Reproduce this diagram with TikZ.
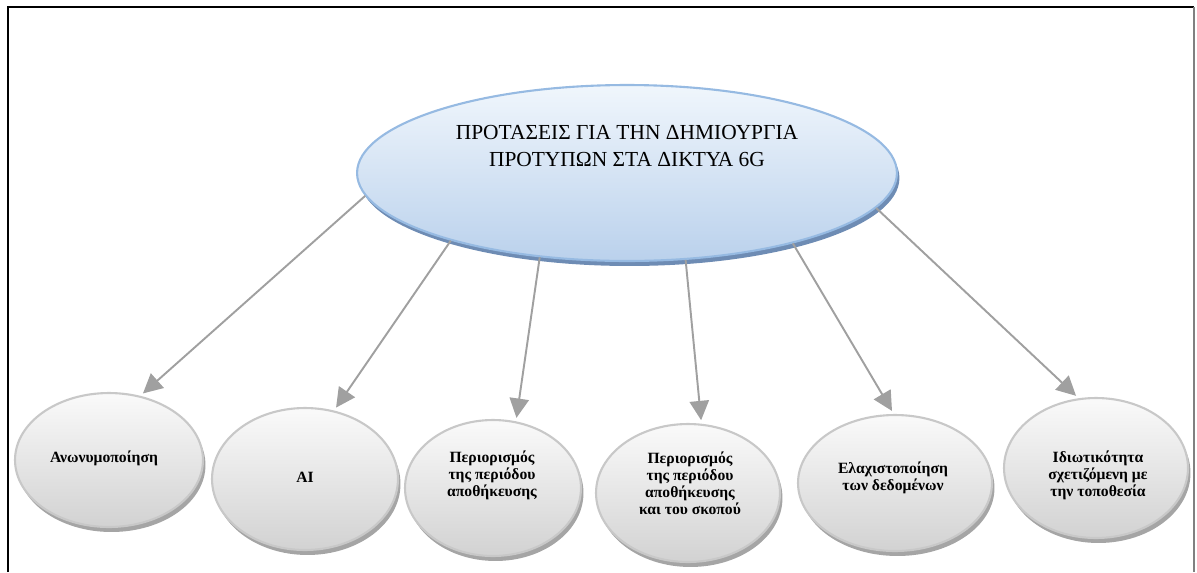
\documentclass[tikz,border=0pt]{standalone}
\usepackage{fontspec}
\setmainfont{Liberation Serif}
\usetikzlibrary{shapes.geometric,arrows.meta,shadows}
\definecolor{arrowgray}{RGB}{160,160,160}
\definecolor{topborder}{RGB}{150,186,226}
\definecolor{toptop}{RGB}{240,246,252}
\definecolor{topbot}{RGB}{186,209,236}
\definecolor{topshadow}{RGB}{110,140,180}
\definecolor{subborder}{RGB}{200,200,200}
\definecolor{subtop}{RGB}{250,250,250}
\definecolor{subbot}{RGB}{210,210,210}
\definecolor{subshadow}{RGB}{165,165,165}
\tikzset{
  topell/.style={ellipse, draw=topborder, line width=1.2pt, top color=toptop, bottom color=topbot,
    minimum width=10.8cm, minimum height=3.52cm, inner sep=0pt,
    drop shadow={shadow xshift=0.05cm, shadow yshift=-0.1cm, fill=topshadow, opacity=1}},
  toptext/.style={font=\fontsize{12.2}{15.9}\selectfont, align=center, inner sep=0pt},
  subell/.style={ellipse, draw=subborder, line width=1.2pt, top color=subtop, bottom color=subbot,
    inner sep=0pt,
    drop shadow={shadow xshift=0.05cm, shadow yshift=-0.1cm, fill=subshadow, opacity=1}},
  subtext/.style={font=\bfseries\fontsize{8.9}{9.6}\selectfont, align=center, inner sep=0pt},
  conn/.style={draw=arrowgray, line width=1.1pt, -{Triangle[length=11pt,width=11pt]}, shorten >=2pt}
}
\begin{document}
\begin{tikzpicture}[x=0.02cm,y=-0.02cm]
\useasboundingbox (0,0) rectangle (1197,572);
% frame
\draw[line width=1.2pt] (8,572) -- (8,7) -- (1194,7);
\draw[line width=1pt, gray] (1194,7) -- (1194,572);
% central node
\node[topell] (top) at (627,173) {};
\node[toptext] (title) at (627,146) {ΠΡΟΤΑΣΕΙΣ ΓΙΑ ΤΗΝ ΔΗΜΙΟΥΡΓΙΑ\\ΠΡΟΤΥΠΩΝ ΣΤΑ ΔΙΚΤΥΑ 6G};
% sub nodes
\node[subell, minimum width=3.76cm, minimum height=2.68cm] (b1) at (109,460) {};
\node[subell, minimum width=3.72cm, minimum height=2.84cm] (b2) at (305,479) {};
\node[subell, minimum width=3.52cm, minimum height=2.72cm] (b3) at (493,488) {};
\node[subell, minimum width=3.68cm, minimum height=2.76cm] (b4) at (688,493) {};
\node[subell, minimum width=3.88cm, minimum height=2.72cm] (b5) at (895,483) {};
\node[subell, minimum width=3.68cm, minimum height=2.80cm] (b6) at (1096,468) {};
\node[subtext] (tb1) at (104,458) {Ανωνυμοποίηση};
\node[subtext] (tb2) at (305,477) {AI};
\node[subtext] (tb3) at (492,475) {Περιορισμός\\της περιόδου\\αποθήκευσης};
\node[subtext] (tb4) at (690,483) {Περιορισμός\\της περιόδου\\αποθήκευσης\\και του σκοπού};
\node[subtext] (tb5) at (893,478) {Ελαχιστοποίηση\\των δεδομένων};
\node[subtext] (tb6) at (1098,475) {Ιδιωτικότητα\\σχετιζόμενη με\\την τοποθεσία};
% connectors
\draw[conn] (top.185.9) -- (b1.64);
\draw[conn] (top.201.9) -- (b2.67.8);
\draw[conn] (top.224) -- (b3.71);
\draw[conn] (top.304.8) -- (b4.79.8);
\draw[conn] (top.337.9) -- (b5.91.5);
\draw[conn] (top.352.7) -- (b6.104);
\end{tikzpicture}
\end{document}
